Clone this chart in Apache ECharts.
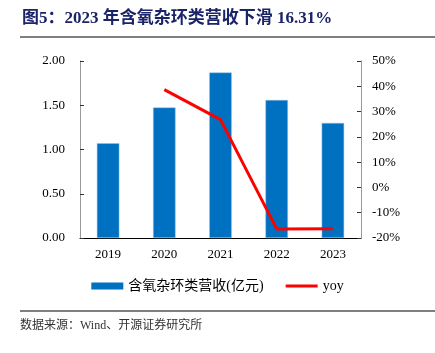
<!DOCTYPE html>
<html>
<head>
<meta charset="utf-8">
<script src="https://cdn.jsdelivr.net/npm/echarts@6/dist/echarts.min.js"></script>
<style>
	html, body { margin: 0; padding: 0; background: #fff; }
	#main { width: 435px; height: 353px; }
</style>
</head>
<body>
<div id="main"></div>
<script>
// 数据
var years = ['2019', '2020', '2021', '2022', '2023'];
var revenue = [1.07, 1.475, 1.87, 1.56, 1.30];
var yoy = [null, 38.7, 26.8, -16.4, -16.31];
var leftTicks = { min: 0, max: 2, interval: 0.5 };
var rightTicks = { min: -20, max: 50, interval: 10 };

var serif = '"Liberation Serif", "Times New Roman", "Noto Sans CJK SC", serif';

var myChart = echarts.init(document.getElementById('main'));

var option = {
	animation: false,
	color: ['#0070C0', '#FF0000'],
	graphic: [{
		type: 'text',
		left: 22,
		top: 10,
		style: {
			text: '图5：2023 年含氧杂环类营收下滑 16.31%',
			font: 'bold 17px ' + serif,
			fill: '#1B2468'
		}
	}, {
		type: 'line',
		shape: { x1: 20, y1: 37, x2: 435, y2: 37 },
		style: { stroke: '#555', lineWidth: 1.5 }
	}, {
		type: 'line',
		shape: { x1: 20, y1: 311, x2: 435, y2: 311 },
		style: { stroke: '#555', lineWidth: 1.5 }
	}, {
		type: 'text',
		left: 20,
		top: 320,
		style: {
			text: '数据来源：Wind、开源证券研究所',
			font: '12px ' + serif,
			fill: '#333'
		}
	}],
	grid: {
		left: 80,
		right: 74,
		top: 61,
		bottom: 115
	},
	legend: {
		bottom: 55,
		left: 'center',
		itemWidth: 32,
		itemHeight: 7,
		itemGap: 22,
		textStyle: { fontFamily: serif, fontSize: 14, color: '#000' },
		data: [{
			name: '含氧杂环类营收(亿元)',
			icon: 'rect',
			itemStyle: { borderWidth: 0 }
		}, {
			name: 'yoy',
			icon: 'path://M0,0 L32,0 L32,3 L0,3 Z',
			itemStyle: { color: '#FF0000', borderWidth: 0 }
		}]
	},
	xAxis: {
		type: 'category',
		data: years,
		axisLine: { lineStyle: { color: '#000', width: 1 } },
		axisTick: { inside: true, length: 4, lineStyle: { color: '#888' } },
		axisLabel: { fontFamily: serif, fontSize: 13, color: '#000', margin: 10 }
	},
	yAxis: [{
		type: 'value',
		min: leftTicks.min,
		max: leftTicks.max,
		interval: leftTicks.interval,
		splitLine: { show: false },
		axisLine: { show: true, lineStyle: { color: '#999' } },
		axisTick: { show: true, inside: true, length: 4, lineStyle: { color: '#333' } },
		axisLabel: {
			fontFamily: serif, fontSize: 13, color: '#000', margin: 15,
			formatter: function(v) { return v.toFixed(2); }
		}
	}, {
		type: 'value',
		min: rightTicks.min,
		max: rightTicks.max,
		interval: rightTicks.interval,
		splitLine: { show: false },
		axisLine: { show: true, lineStyle: { color: '#999' } },
		axisTick: { show: true, inside: true, length: 4, lineStyle: { color: '#333' } },
		axisLabel: {
			fontFamily: serif, fontSize: 13, color: '#000', margin: 11,
			formatter: '{value}%'
		}
	}],
	series: [{
		name: '含氧杂环类营收(亿元)',
		type: 'bar',
		data: revenue,
		barWidth: '40%',
		itemStyle: { color: '#0070C0', borderColor: '#9DC3E6', borderWidth: 0.5 }
	}, {
		name: 'yoy',
		type: 'line',
		yAxisIndex: 1,
		data: yoy,
		symbol: 'none',
		lineStyle: { color: '#FF0000', width: 3 }
	}]
};

myChart.setOption(option);
</script>
</body>
</html>
